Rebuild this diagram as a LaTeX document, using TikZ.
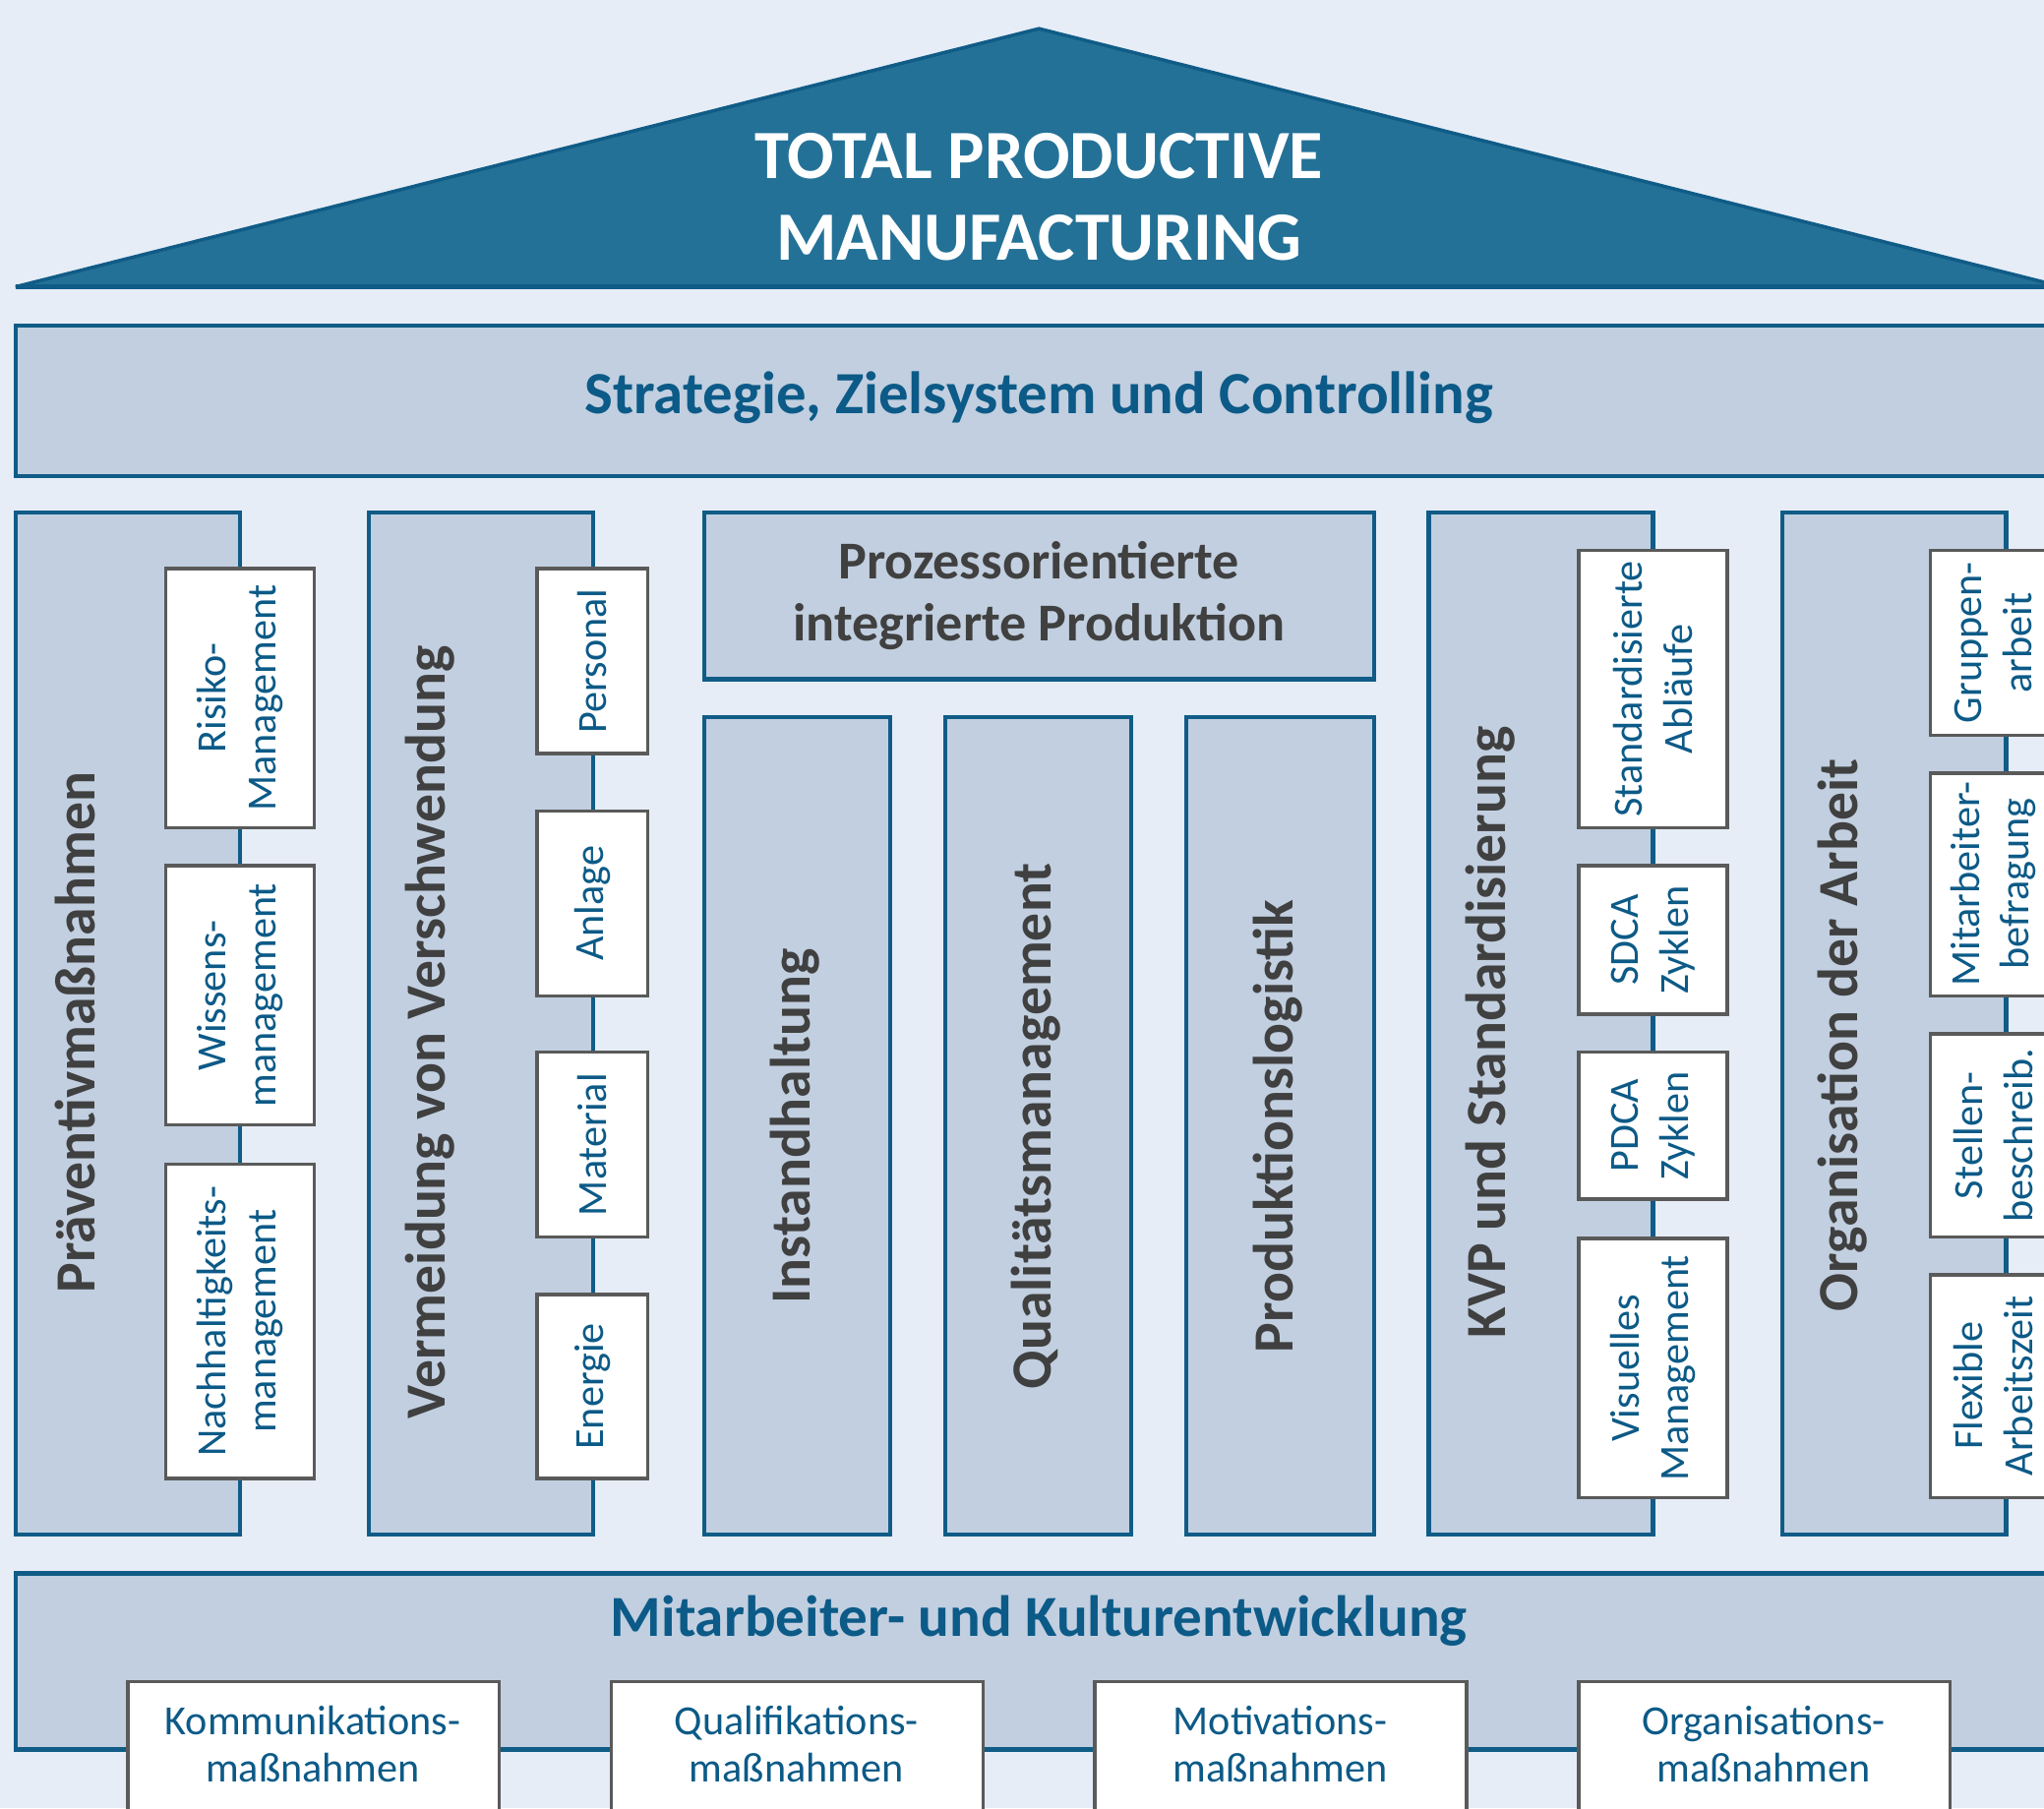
\documentclass[tikz,border=0pt]{standalone}
\usepackage{fontspec}
\setmainfont{Carlito}

\definecolor{bgblue}{RGB}{230,237,247}
\definecolor{roofblue}{RGB}{36,113,151}
\definecolor{lineblue}{RGB}{16,92,135}
\definecolor{panel}{RGB}{193,207,224}
\definecolor{textblue}{RGB}{12,90,135}
\definecolor{darkgray}{RGB}{64,64,64}
\definecolor{boxgray}{RGB}{90,90,90}

\tikzset{
  roof/.style={fill=roofblue, draw=lineblue, line width=1pt, line join=bevel},
  band/.style={fill=panel, draw=lineblue, line width=1.2pt},
  item/.style={fill=white, draw=boxgray, line width=1pt},
  headtext/.style={font=\bfseries\fontsize{17}{19}\selectfont, text=textblue},
  pillartext/.style={rotate=90, font=\bfseries\fontsize{16.4}{18}\selectfont, text=darkgray},
  itemtext/.style={rotate=90, align=center, font=\fontsize{12}{14.4}\selectfont, text=textblue},
  basetext/.style={align=center, font=\fontsize{12}{13.5}\selectfont, text=textblue},
}

\begin{document}
\begin{tikzpicture}[x=0.01325cm, y=-0.01325cm]

    % Canvas, the picture is cut off at the right
    \useasboundingbox (0,0) rectangle (1568,1387);
    \fill[bgblue] (0,0) rectangle (1568,1387);
    \clip (0,0) rectangle (1568,1387);

    % Roof
    \coordinate (roofL) at (12,220);
    \coordinate (roofT) at (797,22);
    \coordinate (roofR) at (1582,220);
    \draw[roof] (roofL) -- (roofT) -- (roofR) -- cycle;
    \draw[lineblue, line width=1.6pt] (roofL) -- (roofR);
    \node[align=center, text=white, font=\bfseries\fontsize{20}{23.5}\selectfont] (title) at (797,151)
        {TOTAL PRODUCTIVE\\MANUFACTURING};

    % Strategy band
    \draw[band] (12,250) rectangle (1600,365);
    \node[headtext, font=\bfseries\fontsize{17.3}{19}\selectfont] (strategie) at (797,305)
        {Strategie, Zielsystem und Controlling};

    % Pillar 1: Praeventivmassnahmen
    \draw[band] (12,393) rectangle (184,1177);
    \node[pillartext] (praev) at (58,792) {Präventivmaßnahmen};
    \draw[item] (127,436) rectangle (241,635) node[pos=.5, itemtext] (risiko) {Risiko-\\Management};
    \draw[item] (127,664) rectangle (241,863) node[pos=.5, itemtext] (wissen) {Wissens-\\management};
    \draw[item] (127,893) rectangle (241,1134) node[pos=.5, itemtext] (nachhalt) {Nachhaltigkeits-\\management};

    % Pillar 2: Vermeidung von Verschwendung
    \draw[band] (283,393) rectangle (455,1177);
    \node[pillartext] (vermeid) at (330,792) {Vermeidung von Verschwendung};
    \draw[item] (412,436) rectangle (497,578) node[pos=.5, itemtext] (personal) {Personal};
    \draw[item] (412,622) rectangle (497,764) node[pos=.5, itemtext] (anlage) {Anlage};
    \draw[item] (412,807) rectangle (497,949) node[pos=.5, itemtext] (material) {Material};
    \draw[item] (412,993) rectangle (497,1134) node[pos=.5, itemtext] (energie) {Energie};

    % Middle: process oriented production
    \draw[band] (540,393) rectangle (1054,521) node[pos=.5, align=center, text=darkgray,
        font=\bfseries\fontsize{15.4}{18}\selectfont] (pip) {Prozessorientierte\\integrierte Produktion};
    \draw[band] (540,550) rectangle (683,1177);
    \node[pillartext] (instand) at (610,864) {Instandhaltung};
    \draw[band] (725,550) rectangle (868,1177);
    \node[pillartext] (quali) at (795,864) {Qualitätsmanagement};
    \draw[band] (910,550) rectangle (1054,1177);
    \node[pillartext] (logistik) at (980,864) {Produktionslogistik};

    % Pillar 4: KVP
    \draw[band] (1096,393) rectangle (1268,1177);
    \node[pillartext] (kvp) at (1143,792) {KVP und Standardisierung};
    \draw[item] (1211,422) rectangle (1325,635) node[pos=.5, itemtext] (std) {Standardisierte\\Abläufe};
    \draw[item] (1211,664) rectangle (1325,778) node[pos=.5, itemtext] (sdca) {SDCA\\Zyklen};
    \draw[item] (1211,807) rectangle (1325,920) node[pos=.5, itemtext] (pdca) {PDCA\\Zyklen};
    \draw[item] (1211,950) rectangle (1325,1149) node[pos=.5, itemtext] (visuell) {Visuelles\\Management};

    % Pillar 5: Organisation der Arbeit, boxes run over the edge
    \draw[band] (1367,393) rectangle (1539,1177);
    \node[pillartext] (orga) at (1413,794) {Organisation der Arbeit};
    \draw[item] (1481,422) rectangle (1596,564);
    \node[itemtext] (gruppe) at (1529,493) {Gruppen-\\arbeit};
    \draw[item] (1481,593) rectangle (1596,764);
    \node[itemtext] (befrag) at (1529,678) {Mitarbeiter-\\befragung};
    \draw[item] (1481,793) rectangle (1596,949);
    \node[itemtext] (stellen) at (1529,871) {Stellen-\\beschreib.};
    \draw[item] (1481,978) rectangle (1596,1149);
    \node[itemtext] (flexibel) at (1529,1063) {Flexible\\Arbeitszeit};

    % Foundation
    \draw[band] (12,1207) rectangle (1600,1342);
    \node[headtext, font=\bfseries\fontsize{16.8}{19}\selectfont] (kultur) at (797,1243)
        {Mitarbeiter- und Kulturentwicklung};
    \draw[item] (98,1290) rectangle (383,1400);
    \node[basetext] (komm) at (240,1338) {Kommunikations-\\maßnahmen};
    \draw[item] (469,1290) rectangle (754,1400);
    \node[basetext] (qualif) at (611,1338) {Qualifikations-\\maßnahmen};
    \draw[item] (840,1290) rectangle (1125,1400);
    \node[basetext] (motiv) at (982,1338) {Motivations-\\maßnahmen};
    \draw[item] (1211,1290) rectangle (1496,1400);
    \node[basetext] (orgmass) at (1353,1338) {Organisations-\\maßnahmen};

\end{tikzpicture}
\end{document}
